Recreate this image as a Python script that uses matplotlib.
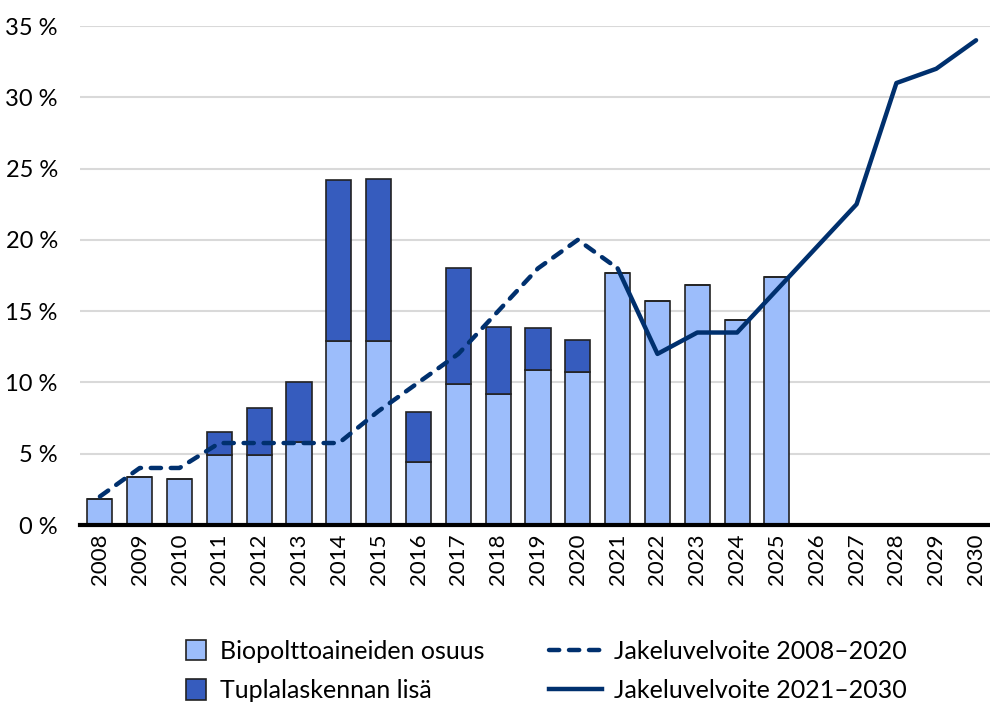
import numpy as np
import matplotlib
matplotlib.use("Agg")
import matplotlib.pyplot as plt
from matplotlib.patches import Patch, Rectangle
from matplotlib.lines import Line2D
from matplotlib.legend_handler import HandlerPatch

plt.rcParams['font.family'] = ['Lato', 'DejaVu Sans']

years = list(range(2008, 2031))
# biopolttoaineiden osuus (%), 2008-2025
bio = [1.8, 3.4, 3.2, 4.9, 4.9, 5.8, 12.9, 12.9, 4.4, 9.9, 9.2, 10.9, 10.7,
       17.7, 15.7, 16.8, 14.4, 17.4]
# tuplalaskennan lisä (%)
tupla = [0, 0, 0, 1.6, 3.3, 4.2, 11.3, 11.4, 3.5, 8.1, 4.7, 2.9, 2.3,
         0, 0, 0, 0, 0]
# jakeluvelvoite
velv1_years = list(range(2008, 2022))
velv1 = [2, 4, 4, 5.75, 5.75, 5.75, 5.75, 8, 10, 12, 15, 18, 20, 18]
velv2_years = list(range(2021, 2031))
velv2 = [18, 12, 13.5, 13.5, 16.5, 19.5, 22.5, 31, 32, 34]

light = '#9CBDFB'
dark = '#365CBE'
navy = '#00306E'
dash = (0, (2.3, 2.2))

fig = plt.figure(figsize=(9.9, 7.08), dpi=100)
ax = fig.add_axes([80/990, 1-525/708, 910/990, (525-26)/708])

x_bio = np.arange(len(bio))
ax.bar(x_bio, bio, width=0.63, color=light, edgecolor='#222222', linewidth=1.2, zorder=2)
ax.bar(x_bio, tupla, width=0.63, bottom=bio, color=dark, edgecolor='#222222', linewidth=1.2, zorder=2)

x1 = [y - 2008 for y in velv1_years]
x2 = [y - 2008 for y in velv2_years]
ax.plot(x1, velv1, color=navy, linewidth=3.2, linestyle=dash,
        dash_capstyle='round', zorder=3)
ax.plot(x2, velv2, color=navy, linewidth=3.2, solid_capstyle='round', zorder=3)

ax.set_ylim(0, 35)
ax.set_xlim(-0.5, 22.35)
ax.set_yticks(np.arange(0, 36, 5))
ax.set_yticklabels([f'{v} %' for v in range(0, 36, 5)], fontsize=17)
ax.set_xticks(np.arange(len(years)))
ax.set_xticklabels([str(y) for y in years], rotation=90, fontsize=16)
ax.tick_params(axis='y', length=0, pad=16)
ax.tick_params(axis='x', length=0, pad=6)
ax.grid(axis='y', color='#D9D9D9', linewidth=1.5, zorder=0)
ax.set_axisbelow(True)
for s in ['left', 'right', 'top']:
    ax.spines[s].set_visible(False)
ax.spines['bottom'].set_linewidth(3)
ax.spines['bottom'].set_zorder(4)


def square(legend, orig_handle, xdescent, ydescent, width, height, fontsize):
    s = 14.5
    return Rectangle((-xdescent + width - s - 1, -ydescent + height/2 - s/2), s, s)


handles = [Patch(facecolor=light, edgecolor='#222222', linewidth=1.2),
           Patch(facecolor=dark, edgecolor='#222222', linewidth=1.2),
           Line2D([], [], color=navy, linewidth=3.2, linestyle=dash, dash_capstyle='round'),
           Line2D([], [], color=navy, linewidth=3.2)]
labels = ['Biopolttoaineiden osuus', 'Tuplalaskennan lisä',
          'Jakeluvelvoite 2008–2020', 'Jakeluvelvoite 2021–2030']
fig.legend(handles, labels, ncol=2, loc='center', bbox_to_anchor=(531/990, 1-671/708),
           frameon=False, fontsize=18, handlelength=2.1, handleheight=0.8,
           columnspacing=2.6, labelspacing=0.65, handletextpad=0.5,
           handler_map={Patch: HandlerPatch(patch_func=square)})

fig.savefig('out.png', dpi=100)
